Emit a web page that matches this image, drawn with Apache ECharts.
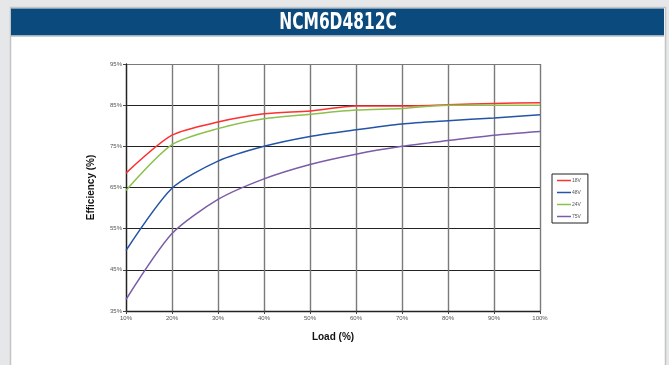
<!DOCTYPE html>
<html>
<head>
<meta charset="utf-8">
<script src="https://cdn.jsdelivr.net/npm/echarts@6/dist/echarts.min.js"></script>
<style>
html,body{margin:0;padding:0;background:#e6e7e8;}
#c{width:669px;height:365px;}
</style>
</head>
<body>
<div id="c"></div>
<script>
var title = 'NCM6D4812C';
var loads = [10, 20, 30, 40, 50, 60, 70, 80, 90, 100];
var seriesNames = ['18V', '48V', '24V', '75V'];
var eff18V = [68.5, 77.7, 80.9, 82.9, 83.6, 84.8, 84.8, 85.1, 85.4, 85.6];
var eff48V = [49.7, 64.8, 71.4, 75.0, 77.4, 79.0, 80.4, 81.2, 81.9, 82.7];
var eff24V = [64.3, 75.4, 79.3, 81.7, 82.8, 83.8, 84.2, 85.0, 85.0, 85.0];
var eff75V = [37.8, 53.8, 62.1, 67.1, 70.6, 73.1, 75.0, 76.4, 77.7, 78.6];
var yTicks = [35, 45, 55, 65, 75, 85, 95];

var colors = {'18V': '#ff3030', '48V': '#2454a6', '24V': '#8cc04c', '75V': '#7a5ca8'};
var values = {'18V': eff18V, '48V': eff48V, '24V': eff24V, '75V': eff75V};

function pairs(arr) { return loads.map(function (x, i) { return [x, arr[i]]; }); }

var chart = echarts.init(document.getElementById('c'), null, {renderer: 'canvas'});
chart.setOption({
  backgroundColor: '#e6e7e8',
  animation: false,
  graphic: [
    {type: 'rect', z: -10, shape: {x: 10.5, y: 7.5, width: 655, height: 370}, style: {fill: '#ffffff', stroke: '#c2c4c6', lineWidth: 1.5}},
    {type: 'rect', z: -9, shape: {x: 11, y: 8.5, width: 653, height: 27}, style: {fill: '#0a4a7c'}},
    {type: 'rect', z: -9, shape: {x: 11, y: 35.5, width: 653, height: 1.2}, style: {fill: '#b8bec4'}},
    {type: 'text', z: 10, x: 338, y: 23, scaleX: 0.78, scaleY: 1.02, style: {text: title, fill: '#ffffff', font: 'bold 22px "Liberation Sans Narrow", "DejaVu Sans Condensed", sans-serif', textAlign: 'center', textVerticalAlign: 'middle'}}
  ],
  grid: {left: 126, right: 129, top: 64, bottom: 54, containLabel: false},
  legend: {
    orient: 'vertical', left: 552, top: 174, width: 37,
    data: seriesNames,
    icon: 'rect', itemWidth: 14, itemHeight: 1.5, itemGap: 7,
    borderColor: '#222', borderWidth: 1, padding: [4, 7, 4, 5],
    textStyle: {fontSize: 5, color: '#555', fontFamily: 'Liberation Sans, Arial, sans-serif', padding: [0, 0, 0, -4]}
  },
  xAxis: {
    type: 'value', min: 10, max: 100, interval: 10,
    name: 'Load (%)', nameLocation: 'middle', nameGap: 21,
    nameTextStyle: {fontSize: 10, fontWeight: 'bold', color: '#111', fontFamily: 'Liberation Sans, Arial, sans-serif'},
    axisLine: {show: true, lineStyle: {color: '#222', width: 1.3}},
    axisTick: {show: true, length: 3, lineStyle: {color: '#444'}},
    axisLabel: {fontSize: 6, color: '#555', margin: 4, formatter: '{value}%', fontFamily: 'Liberation Sans, Arial, sans-serif'},
    splitLine: {show: true, lineStyle: {color: '#7a7a7a', width: 1.4}}
  },
  yAxis: {
    type: 'value', min: 35, max: 95, interval: 10,
    name: 'Efficiency (%)', nameLocation: 'middle', nameGap: 30,
    nameTextStyle: {fontSize: 10, fontWeight: 'bold', color: '#111', fontFamily: 'Liberation Sans, Arial, sans-serif'},
    axisLine: {show: true, lineStyle: {color: '#222', width: 1.3}},
    axisTick: {show: true, length: 3, lineStyle: {color: '#444'}},
    axisLabel: {fontSize: 6, color: '#555', margin: 4, fontFamily: 'Liberation Sans, Arial, sans-serif',
      formatter: function (v) { return yTicks.indexOf(v) >= 0 ? v + '%' : ''; }},
    splitLine: {show: true, lineStyle: {color: ['#222', '#222', '#222', '#222', '#222', '#222', '#7a7a7a'], width: 1.2}}
  },
  series: seriesNames.map(function (n) {
    return {
      name: n, type: 'line', data: pairs(values[n]), smooth: 0.25,
      showSymbol: false, symbol: 'none', color: colors[n],
      lineStyle: {width: 1.5, color: colors[n]}, z: 5
    };
  })
});
</script>
</body>
</html>
